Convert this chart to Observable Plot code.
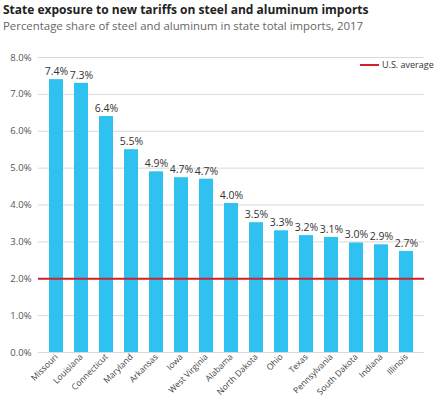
<!DOCTYPE html>
<html><head><meta charset="utf-8">
<script src="https://cdn.jsdelivr.net/npm/d3@7"></script>
<script src="https://cdn.jsdelivr.net/npm/@observablehq/plot@0.6"></script>
<style>
body{margin:0;background:#fff;}
#wrap{position:relative;width:447px;height:396px;overflow:hidden;font-family:"Open Sans",sans-serif;}
#title{position:absolute;left:3px;top:2px;font-weight:700;font-size:12px;line-height:15px;color:#222;white-space:nowrap;}
#subtitle{position:absolute;left:3px;top:19px;font-size:11.4px;line-height:14px;color:#666;white-space:nowrap;}
#chart{position:absolute;left:0;top:40px;}
#legend{position:absolute;left:360px;top:58px;font-size:9px;line-height:14px;color:#333;display:flex;align-items:center;white-space:nowrap;}
#legend span.sw{display:inline-block;width:19px;height:2px;background:#d0202a;margin-right:3px;}
</style></head>
<body><div id="wrap">
<div id="title">State exposure to new tariffs on steel and aluminum imports</div>
<div id="subtitle">Percentage share of steel and aluminum in state total imports, 2017</div>
<div id="chart"></div>
<div id="legend"><span class="sw"></span>U.S. average</div>
</div>
<script>
const states = ["Missouri","Louisiana","Connecticut","Maryland","Arkansas","Iowa","West Virginia","Alabama","North Dakota","Ohio","Texas","Pennsylvania","South Dakota","Indiana","Illinois"];
const shares = [7.4,7.3,6.4,5.5,4.9,4.74,4.7,4.04,3.52,3.3,3.17,3.12,2.97,2.92,2.74];
const usAverage = 2.0;
const yTicks = [0,1,2,3,4,5,6,7,8];

const data = states.map((s,i)=>({state:s, share:shares[i]}));

const chart = Plot.plot({
  width: 447,
  height: 356,
  marginLeft: 38,
  marginRight: 23,
  marginTop: 17,
  marginBottom: 44,
  style: {fontFamily: '"Open Sans", sans-serif', fontSize: "9px", color: "#444", background: "#fff"},
  x: {domain: states, paddingInner: 0.45, paddingOuter: 0.19, label: null},
  y: {domain: [0, 8], label: null},
  marks: [
    Plot.gridY(yTicks, {stroke: "#d9d9d9", strokeOpacity: 1, strokeWidth: 1}),
    Plot.axisY(yTicks, {tickSize: 0, tickPadding: 7, tickFormat: d => d.toFixed(1) + "%", fontSize: 9.5, fill: "#555"}),
    Plot.axisX({tickSize: 0, tickPadding: 3, tickRotate: -45, fontSize: 8.5, fill: "#444"}),
    Plot.barY(data, {x: "state", y: "share", fill: "#2fc1ef"}),
    Plot.text(data, {x: "state", y: "share", text: d => d.share.toFixed(1) + "%", dy: -8, fontSize: 10.5, fill: "#333"}),
    Plot.ruleY([usAverage], {stroke: "#d0202a", strokeWidth: 2})
  ]
});
document.getElementById("chart").appendChild(chart);
</script>
</body></html>
